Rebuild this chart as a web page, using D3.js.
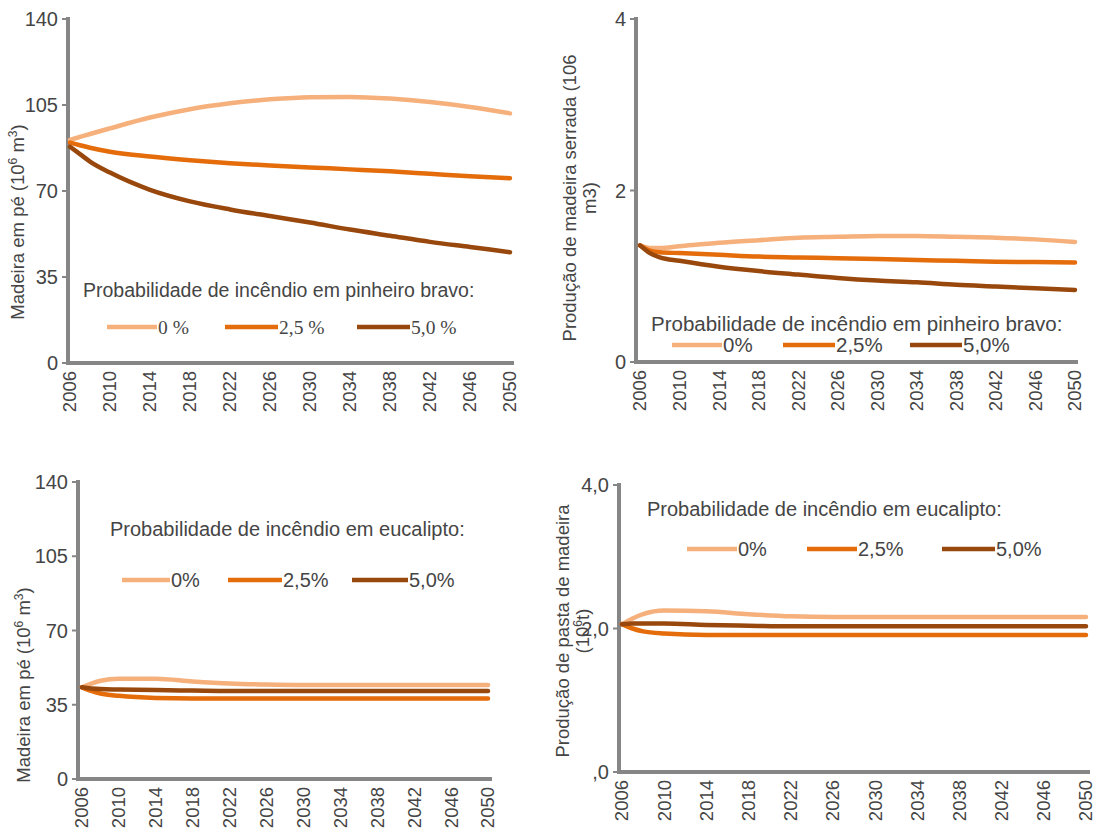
<!DOCTYPE html>
<html><head><meta charset="utf-8">
<script src="https://cdn.jsdelivr.net/npm/d3@7"></script>
<style>
body{margin:0;background:#fff;}
svg text{font-family:"Liberation Sans",Arial,sans-serif;fill:#454545;}
</style></head>
<body><svg id="c" width="1100" height="838"></svg>
<script>
// ---- data ----
const years = [2006,2007,2008,2010,2014,2018,2022,2026,2030,2034,2038,2042,2046,2050];
const tickYears = [2006,2010,2014,2018,2022,2026,2030,2034,2038,2042,2046,2050];

// Top-left: standing volume, pinheiro bravo (10^6 m3)
const pinStock0  = [90.8,92.0,93.2,95.5,99.9,103.3,105.7,107.3,108.2,108.3,107.6,106.2,104.2,101.6];
const pinStock25 = [89.7,88.6,87.6,86.0,84.0,82.5,81.3,80.4,79.6,78.8,78.0,77.0,76.0,75.2];
const pinStock50 = [88.0,85.0,82.0,77.5,70.5,65.8,62.5,59.8,57.2,54.3,51.8,49.3,47.2,45.1];

// Top-right: sawn wood production (10^6 m3)
const pinSawn0  = [1.36,1.33,1.33,1.35,1.39,1.42,1.45,1.46,1.47,1.47,1.46,1.45,1.43,1.40];
const pinSawn25 = [1.36,1.30,1.28,1.27,1.25,1.23,1.22,1.21,1.20,1.19,1.18,1.17,1.165,1.16];
const pinSawn50 = [1.36,1.27,1.22,1.18,1.11,1.06,1.02,0.98,0.95,0.93,0.90,0.88,0.86,0.84];

// Bottom-left: standing volume, eucalipto (10^6 m3)
const eucStock0  = [43.2,45.0,46.3,47.3,47.3,46.0,45.0,44.5,44.3,44.3,44.3,44.3,44.3,44.3];
const eucStock25 = [43.2,41.5,40.3,39.2,38.2,38.0,38.0,38.0,38.0,38.0,38.0,38.0,38.0,38.0];
const eucStock50 = [43.2,42.7,42.4,42.2,41.9,41.7,41.5,41.5,41.5,41.5,41.5,41.5,41.5,41.5];

// Bottom-right: pulp production (10^6 t)
const eucPulp0  = [2.06,2.14,2.20,2.25,2.24,2.20,2.17,2.16,2.16,2.16,2.16,2.16,2.16,2.16];
const eucPulp25 = [2.06,2.00,1.96,1.93,1.91,1.91,1.91,1.91,1.91,1.91,1.91,1.91,1.91,1.91];
const eucPulp50 = [2.06,2.07,2.07,2.07,2.05,2.04,2.03,2.03,2.03,2.03,2.03,2.03,2.03,2.03];

const stockTicks = [0,35,70,105,140];
const sawnTicks = [0,2,4];
const pulpTicks = [0,2,4];
const pulpTickLabels = [",0","2,0","4,0"];

const legendLabelsSpaced = ["0 %","2,5 %","5,0 %"];
const legendLabels = ["0%","2,5%","5,0%"];
const colors = ["#F5B07C","#E46C0A","#98480C"];

// ---- drawing ----
const svg = d3.select("#c");

function panel(o){
  const g = svg.append("g");
  const x = d3.scaleLinear().domain([2006,2050]).range([o.x0,o.x1]);
  const y = d3.scaleLinear().domain(o.ydom).range([o.yb,o.yt]);

  g.append("line").attr("x1",o.ax).attr("x2",o.ax).attr("y1",o.yt-2).attr("y2",o.yb+2)
    .attr("stroke","#868686").attr("stroke-width",4);
  g.append("line").attr("x1",o.ax-2).attr("x2",o.xe).attr("y1",o.yb).attr("y2",o.yb)
    .attr("stroke","#868686").attr("stroke-width",4);
  o.yticks.forEach((t,i)=>{
    g.append("line").attr("x1",o.ax-6).attr("x2",o.ax).attr("y1",y(t)).attr("y2",y(t))
      .attr("stroke","#868686").attr("stroke-width",2);
    g.append("text").attr("x",o.ax-10).attr("y",y(t)).attr("dy","0.35em")
      .attr("text-anchor","end").style("font-size","20px")
      .text(o.ytickLabels ? o.ytickLabels[i] : t);
  });
  tickYears.forEach(t=>{
    g.append("text").attr("transform",`translate(${x(t)},${o.yb+8}) rotate(-90)`)
      .attr("dy","0.35em").attr("text-anchor","end").style("font-size","18.5px").text(t);
  });
  const tl = g.append("text").attr("transform",`translate(${o.tx},${o.ty}) rotate(-90)`)
    .attr("text-anchor","middle").style("font-size","18.5px");
  o.title.forEach((line,i)=>{
    const ts = tl.append("tspan").attr("x",0).attr("dy", i===0?0:"1.1em");
    line.forEach(part=>{
      const s = ts.append("tspan").text(part.t);
      if(part.sup){ s.attr("baseline-shift","super").style("font-size","12px"); }
    });
  });
  const line = d3.line().x((d,i)=>x(years[i])).y(d=>y(d)).curve(d3.curveMonotoneX);
  o.series.forEach((s,i)=>{
    g.append("path").datum(s).attr("d",line).attr("fill","none")
      .attr("stroke",colors[i]).attr("stroke-width",4.5).attr("stroke-linecap","round");
  });
  g.append("text").attr("x",o.lx).attr("y",o.ly).style("font-size",o.lfs+"px").text(o.ltitle);
  o.litems.forEach((it,i)=>{
    g.append("line").attr("x1",it[0]).attr("x2",it[1]).attr("y1",o.liy).attr("y2",o.liy)
      .attr("stroke",colors[i]).attr("stroke-width",4.5);
    g.append("text").attr("x",it[1]+1).attr("y",o.liy).attr("dy","0.35em")
      .style("font-size",o.lfs+"px")
      .style("font-family",o.serif?"'Liberation Serif',serif":null)
      .text(o.llabels[i]);
  });
}

panel({x0:70,x1:510,ax:68,xe:514,yt:19,yb:363,ydom:[0,140],yticks:stockTicks,
  tx:24,ty:222,title:[[{t:"Madeira em pé (10"},{t:"6",sup:true},{t:" m"},{t:"3",sup:true},{t:")"}]],
  series:[pinStock0,pinStock25,pinStock50],
  ltitle:"Probabilidade de incêndio em pinheiro bravo:",lx:83,ly:297,lfs:19.5,liy:327,serif:true,
  litems:[[107,157],[225,278],[357,410]],llabels:legendLabelsSpaced});

panel({x0:640,x1:1075,ax:636,xe:1078,yt:19,yb:362,ydom:[0,4],yticks:sawnTicks,
  tx:576,ty:198,title:[[{t:"Produção de madeira serrada (106"}],[{t:"m3)"}]],
  series:[pinSawn0,pinSawn25,pinSawn50],
  ltitle:"Probabilidade de incêndio em pinheiro bravo:",lx:651,ly:331,lfs:20.5,liy:345,
  litems:[[672,722],[783,835],[910,962]],llabels:legendLabels});

panel({x0:82,x1:488,ax:78,xe:492,yt:482,yb:779,ydom:[0,140],yticks:stockTicks,
  tx:30,ty:685,title:[[{t:"Madeira em pé (10"},{t:"6",sup:true},{t:" m"},{t:"3",sup:true},{t:")"}]],
  series:[eucStock0,eucStock25,eucStock50],
  ltitle:"Probabilidade de incêndio em eucalipto:",lx:110,ly:536,lfs:20,liy:580,
  litems:[[122,170],[228,282],[352,408]],llabels:legendLabels});

panel({x0:622,x1:1086,ax:619,xe:1090,yt:485,yb:772,ydom:[0,4],yticks:pulpTicks,ytickLabels:pulpTickLabels,
  tx:569,ty:631,title:[[{t:"Produção de pasta de madeira"}],[{t:"(10"},{t:"6",sup:true},{t:"t)"}]],
  series:[eucPulp0,eucPulp25,eucPulp50],
  ltitle:"Probabilidade de incêndio em eucalipto:",lx:647,ly:516,lfs:20,liy:549,
  litems:[[687,737],[807,857],[942,995]],llabels:legendLabels});
</script></body></html>
